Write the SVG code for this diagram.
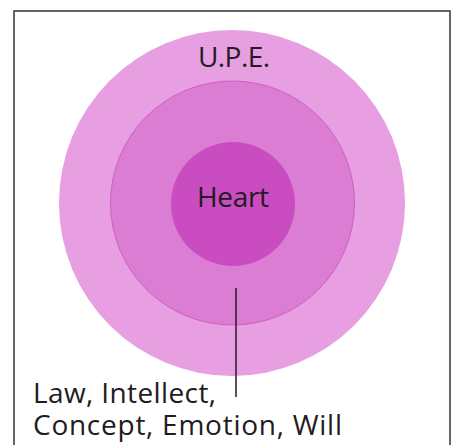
<svg xmlns="http://www.w3.org/2000/svg" width="454" height="445" viewBox="0 0 454 445">
<style>
.t{font-family:"Open Sans","Liberation Sans",sans-serif;font-size:28px;font-weight:500;fill:#231a22}
</style>
<rect x="0" y="0" width="454" height="445" fill="#ffffff"/>
<rect x="14" y="11" width="436" height="440" fill="none" stroke="#333" stroke-width="1.5"/>
<g id="upe">
<circle cx="232" cy="203" r="173" fill="#e79fe1"/>
<text class="t" x="234" y="67" text-anchor="middle" textLength="72">U.P.E.</text>
</g>
<g id="law">
<circle cx="232.5" cy="203" r="122" fill="#da7dd3" stroke="#cc60c4" stroke-width="1"/>
</g>
<g id="heart">
<circle cx="233" cy="204" r="62" fill="#c94cc0"/>
<text class="t" x="233" y="207" text-anchor="middle" textLength="72">Heart</text>
</g>
<g id="connectors">
<line x1="236" y1="288" x2="236" y2="397" stroke="#231a22" stroke-width="1.5"/>
</g>
<g id="label">
<text class="t" x="33" y="403" textLength="183">Law, Intellect,</text>
<text class="t" x="33" y="435" textLength="309">Concept, Emotion, Will</text>
</g>
</svg>
